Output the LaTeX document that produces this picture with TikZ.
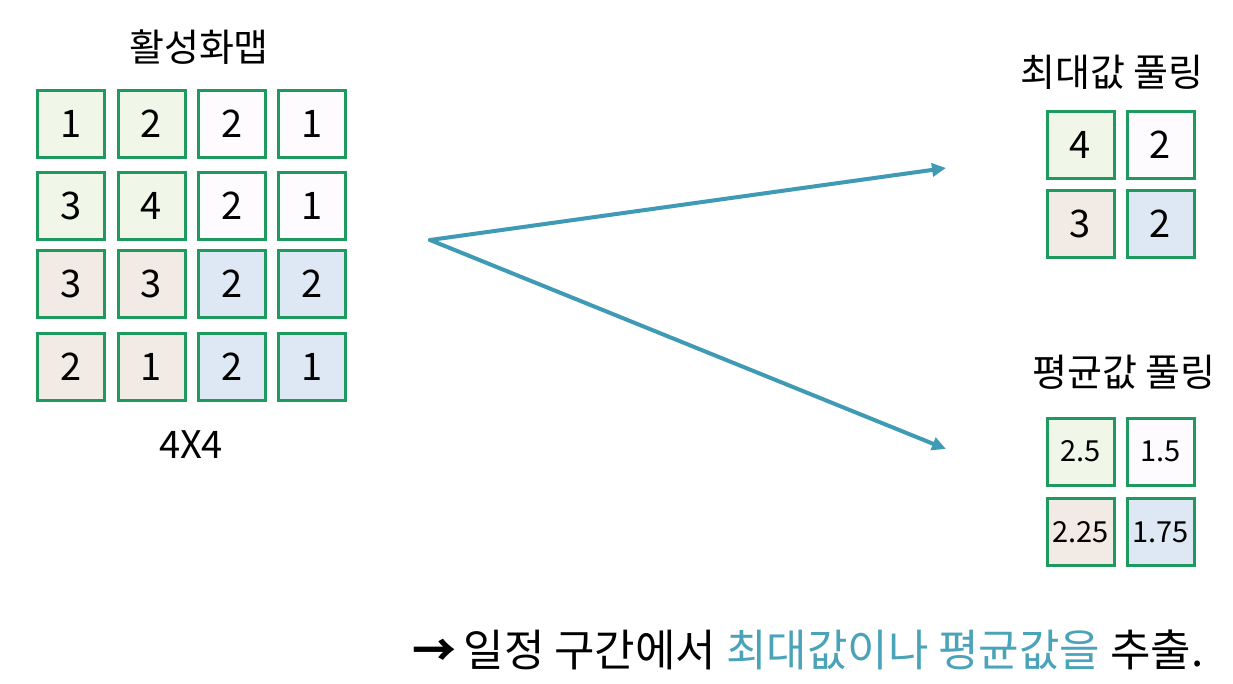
\documentclass[tikz,border=0pt]{standalone}
\usepackage{fontspec}
\setmainfont{Noto Sans CJK KR}
\usetikzlibrary{arrows.meta}
\definecolor{cellgreen}{HTML}{1F9A5E}
\definecolor{fgreen}{HTML}{F1F7E8}
\definecolor{fwhite}{HTML}{FDFBFD}
\definecolor{fpink}{HTML}{F2EAE5}
\definecolor{fblue}{HTML}{DEE8F4}
\definecolor{arrowblue}{HTML}{3E9AB5}
\definecolor{hltext}{HTML}{4AA3B8}
\tikzset{
  cell/.style={draw=cellgreen, line width=3pt, minimum width=67pt, minimum height=67pt, inner sep=0pt, font=\fontsize{38}{38}\selectfont},
  smallcell/.style={cell, font=\fontsize{29}{29}\selectfont},
  title/.style={font=\fontsize{38}{38}\selectfont, inner sep=0pt},
  conn/.style={draw=arrowblue, line width=4pt, line cap=round, -{Triangle[length=14pt,width=13pt]}}
}
\begin{document}
\begin{tikzpicture}[x=1pt,y=-1pt]
\useasboundingbox[fill=white] (0,0) rectangle (1233,683);
% titles
\node[title] (tmap) at (199,47) {활성화맵};
\node[title] (tsize) at (191,445) {4X4};
\node[title] (tmax) at (1112,72) {최대값 풀링};
\node[title] (tavg) at (1124,372) {평균값 풀링};
% 4x4 grid
\node[cell, fill=fgreen] (a11) at (71,124) {1};
\node[cell, fill=fgreen] (a12) at (151.5,124) {2};
\node[cell, fill=fwhite] (a13) at (232,124) {2};
\node[cell, fill=fwhite] (a14) at (312,124) {1};
\node[cell, fill=fgreen] (a21) at (71,206) {3};
\node[cell, fill=fgreen] (a22) at (151.5,206) {4};
\node[cell, fill=fwhite] (a23) at (232,206) {2};
\node[cell, fill=fwhite] (a24) at (312,206) {1};
\node[cell, fill=fpink] (a31) at (71,284) {3};
\node[cell, fill=fpink] (a32) at (151.5,284) {3};
\node[cell, fill=fblue] (a33) at (232,284) {2};
\node[cell, fill=fblue] (a34) at (312,284) {2};
\node[cell, fill=fpink] (a41) at (71,367) {2};
\node[cell, fill=fpink] (a42) at (151.5,367) {1};
\node[cell, fill=fblue] (a43) at (232,367) {2};
\node[cell, fill=fblue] (a44) at (312,367) {1};
% max pooling
\node[cell, fill=fgreen] (m11) at (1080.5,144.5) {4};
\node[cell, fill=fwhite] (m12) at (1160.5,144.5) {2};
\node[cell, fill=fpink] (m21) at (1080.5,223.5) {3};
\node[cell, fill=fblue] (m22) at (1160.5,223.5) {2};
% average pooling
\node[smallcell, fill=fgreen] (p11) at (1080.5,451.5) {2.5};
\node[smallcell, fill=fwhite] (p12) at (1160.5,451.5) {1.5};
\node[smallcell, fill=fpink] (p21) at (1080.5,532) {2.25};
\node[smallcell, fill=fblue] (p22) at (1160.5,532) {1.75};
% arrows
\coordinate (src) at (430,240);
\coordinate (tipmax) at (946,168);
\coordinate (tipavg) at (946,449);
\draw[conn] (src) -- (tipmax);
\draw[conn] (src) -- (tipavg);
% bottom text
\node[anchor=base west, inner sep=0pt, font=\fontsize{44}{44}\selectfont] (summary) at (412,666)
  {\textbf{→}\,일정 구간에서 \textcolor{hltext}{최대값이나 평균값을} 추출.};
\end{tikzpicture}
\end{document}
